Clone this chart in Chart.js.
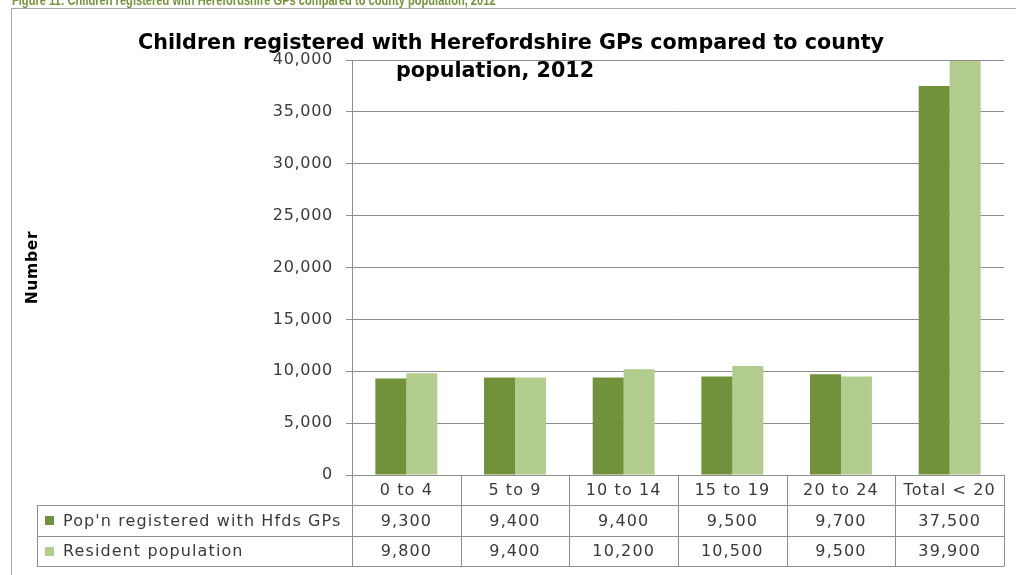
<!DOCTYPE html>
<html><head><meta charset="utf-8">
<script src="https://cdn.jsdelivr.net/npm/chart.js@4.4.1/dist/chart.umd.min.js"></script>
<style>
html,body{margin:0;padding:0;background:#fff;overflow:hidden;}
#wrap{position:relative;width:1016px;height:575px;overflow:hidden;}
#cap{position:absolute;left:12px;top:-8px;font:bold 15px "Liberation Sans",sans-serif;color:#77933C;white-space:nowrap;line-height:15px;transform:scaleX(0.74);transform-origin:0 0;}
canvas{position:absolute;left:0;top:0;}
</style></head><body>
<div id="wrap"><canvas id="c" width="1016" height="575"></canvas><div id="cap">Figure 11: Children registered with Herefordshire GPs compared to county population, 2012</div></div>
<script>
const categories = ['0 to 4','5 to 9','10 to 14','15 to 19','20 to 24','Total < 20'];
const registered = [9300,9400,9400,9500,9700,37500];
const resident = [9800,9400,10200,10500,9500,39900];
const seriesNames = ["Pop'n registered with Hfds GPs","Resident population"];
const seriesColors = ['#71913A','#B2CC8E'];
const titleLines = ['Children registered with Herefordshire GPs compared to county','population, 2012'];
const yMax = 40000, yStep = 5000;

const LINE = '#8E8E8E';
const TXT = '#3A3A3A';
const FONT = '"DejaVu Sans", sans-serif';
const fmt = v => Number(v).toLocaleString('en-US');

const tablePlugin = {
  id: 'tablePlugin',
  beforeDraw(chart) {
    const ctx = chart.ctx;
    ctx.save();
    ctx.fillStyle = '#fff';
    ctx.fillRect(0, 0, chart.width, chart.height);
    ctx.strokeStyle = '#A8A8A8';
    ctx.lineWidth = 1;
    ctx.strokeRect(11.5, 8.5, 1100, 700);
    ctx.restore();
    ctx.letterSpacing = '0.7px';
  },
  afterDraw(chart) {
    const ctx = chart.ctx;
    ctx.letterSpacing = '0px';
    const ca = chart.chartArea;
    const xs = chart.scales.x;
    const n = categories.length;
    const cw = (ca.right - ca.left) / n;
    const rows = [ca.bottom, ca.bottom + 30, ca.bottom + 61, ca.bottom + 91];
    const tableLeft = 37;
    ctx.save();
    ctx.strokeStyle = LINE;
    ctx.lineWidth = 1;
    ctx.beginPath();
    for (let r = 1; r < rows.length; r++) {
      const y = Math.round(rows[r]) + 0.5;
      ctx.moveTo(tableLeft, y); ctx.lineTo(ca.right, y);
    }
    ctx.moveTo(tableLeft + 0.5, rows[1]); ctx.lineTo(tableLeft + 0.5, rows[3] + 0.5);
    for (let i = 0; i <= n; i++) {
      const x = Math.round(ca.left + i * cw) + 0.5;
      ctx.moveTo(x, rows[0]); ctx.lineTo(x, rows[3] + 0.5);
    }
    ctx.stroke();

    ctx.fillStyle = TXT;
    ctx.font = '16px ' + FONT;
    ctx.letterSpacing = '1.1px';
    ctx.textBaseline = 'middle';
    ctx.textAlign = 'center';
    for (let i = 0; i < n; i++) {
      const cx = xs.getPixelForValue(i);
      ctx.fillText(categories[i], cx, (rows[0] + rows[1]) / 2 + 1);
      ctx.fillText(fmt(registered[i]), cx, (rows[1] + rows[2]) / 2 + 1);
      ctx.fillText(fmt(resident[i]), cx, (rows[2] + rows[3]) / 2 + 1);
    }
    ctx.textAlign = 'left';
    for (let s = 0; s < 2; s++) {
      const cy = (rows[1 + s] + rows[2 + s]) / 2;
      ctx.fillStyle = seriesColors[s];
      ctx.fillRect(45, Math.round(cy - 4.5), 9, 9);
      ctx.fillStyle = TXT;
      ctx.fillText(seriesNames[s], 63, cy + 1);
    }

    ctx.letterSpacing = '0px';
    ctx.fillStyle = '#000';
    ctx.font = 'bold 20.7px ' + FONT;
    ctx.textBaseline = 'alphabetic';
    ctx.textAlign = 'center';
    ctx.fillText(titleLines[0], 511, 49);
    ctx.fillText(titleLines[1], 495, 77);
    ctx.restore();
  }
};

new Chart(document.getElementById('c'), {
  type: 'bar',
  data: {
    labels: categories,
    datasets: [
      { label: seriesNames[0], data: registered, backgroundColor: seriesColors[0], borderWidth: 0, categoryPercentage: 0.57, barPercentage: 1.0 },
      { label: seriesNames[1], data: resident, backgroundColor: seriesColors[1], borderWidth: 0, categoryPercentage: 0.57, barPercentage: 1.0 }
    ]
  },
  options: {
    responsive: false,
    animation: false,
    devicePixelRatio: 1,
    layout: { padding: { top: 60, bottom: 100, left: 20, right: 12 } },
    plugins: { legend: { display: false }, tooltip: { enabled: false }, title: { display: false } },
    scales: {
      x: {
        ticks: { display: false },
        grid: { display: false, drawTicks: false },
        border: { display: false },
        afterFit(s) { s.height = 0; }
      },
      y: {
        min: 0, max: yMax,
        ticks: { stepSize: yStep, padding: 13, color: TXT, font: { family: FONT, size: 16 }, callback: v => fmt(v) },
        grid: { color: LINE, tickLength: 6, drawTicks: true },
        border: { color: LINE },
        title: { display: true, text: 'Number', color: '#000', font: { family: FONT, size: 15.5, weight: 'bold' }, padding: { top: 4, bottom: 4 } },
        afterFit(s) { s.width = 332; }
      }
    }
  },
  plugins: [tablePlugin]
});
</script>
</body></html>
